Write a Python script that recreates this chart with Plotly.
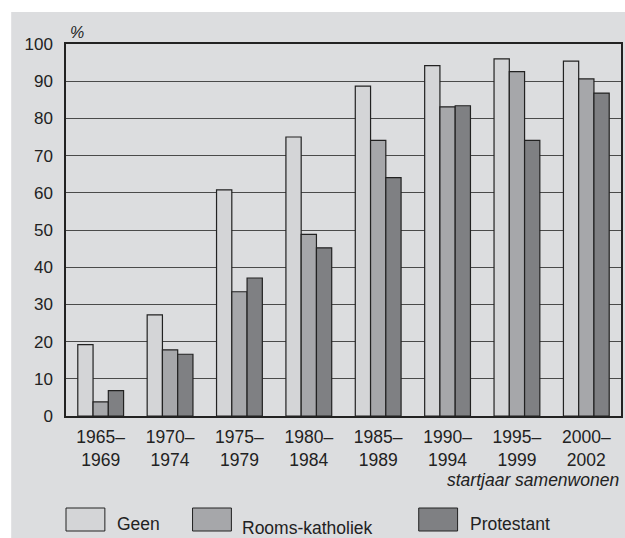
import plotly.graph_objects as go

periods = ["1965–<br>1969", "1970–<br>1974", "1975–<br>1979", "1980–<br>1984",
           "1985–<br>1989", "1990–<br>1994", "1995–<br>1999", "2000–<br>2002"]
geen = [19.2, 27.2, 60.8, 75.0, 88.7, 94.2, 96.0, 95.4]
rooms_katholiek = [3.8, 17.8, 33.4, 48.8, 74.1, 83.1, 92.6, 90.6]
protestant = [6.8, 16.6, 37.1, 45.2, 64.1, 83.4, 74.1, 86.8]

series = [("Geen", geen, "#d4d5d7"),
          ("Rooms-katholiek", rooms_katholiek, "#a6a7aa"),
          ("Protestant", protestant, "#7f8083")]

W, H = 625, 538
L, R, T, B = 66, 2, 44, 122
pw, ph = W - L - R, H - T - B

def px(x):
    return (x - L) / pw

def py(y):
    return (H - B - y) / ph

FONT = "Liberation Sans, Arial, sans-serif"

fig = go.Figure()
for name, vals, col in series:
    fig.add_trace(go.Bar(
        x=periods, y=vals, name=name,
        marker=dict(color=col, line=dict(color="#222222", width=1.2)),
        showlegend=False
    ))

shapes = [
    # grey panel
    dict(type="rect", xref="paper", yref="paper", layer="below",
         x0=px(11), x1=px(W + 5), y0=py(H + 5), y1=py(12),
         fillcolor="#dcdddf", line=dict(width=0)),
]
annotations = [
    dict(text="%", xref="paper", yref="paper", x=px(68), y=py(32),
         xanchor="left", yanchor="middle", showarrow=False,
         font=dict(size=16, style="italic", color="#222")),
    dict(text="startjaar samenwonen", xref="paper", yref="paper", x=px(623), y=py(480),
         xanchor="right", yanchor="middle", showarrow=False,
         font=dict(size=17.5, style="italic", color="#222")),
]

# legend: box left x, text left x, text centre y
legend_items = [(66, 115, 524), (193, 241, 528), (420, 469, 524)]
for (name, vals, col), (bx, tx, ty) in zip(series, legend_items):
    shapes.append(dict(type="rect", xref="paper", yref="paper",
                       x0=px(bx), x1=px(bx + 39), y0=py(531), y1=py(508),
                       fillcolor=col, line=dict(color="#222222", width=1)))
    annotations.append(dict(text=name, xref="paper", yref="paper", x=px(tx), y=py(ty),
                            xanchor="left", yanchor="middle", showarrow=False,
                            font=dict(size=17.5, color="#222")))

fig.update_layout(
    width=W, height=H,
    margin=dict(l=L, r=R, t=T, b=B),
    paper_bgcolor="white",
    plot_bgcolor="white",
    barmode="group",
    bargap=0.34,
    bargroupgap=0,
    font=dict(family=FONT, size=16, color="#222"),
    shapes=shapes,
    annotations=annotations,
)
fig.update_xaxes(showline=True, linecolor="#222", linewidth=1.5, mirror=True,
                 ticks="", tickfont=dict(size=17.5), ticklabelstandoff=4, showgrid=False)
fig.update_yaxes(range=[0, 100], dtick=10, showline=True, linecolor="#222", linewidth=1.5,
                 mirror=True, gridcolor="#4a4a4a", gridwidth=1.3, ticks="",
                 tickfont=dict(size=17), ticklabelstandoff=8, zeroline=False)

fig.write_html("out.html", config={"displayModeBar": False},
               post_script="document.body.style.margin='0';document.body.style.overflow='hidden';")
